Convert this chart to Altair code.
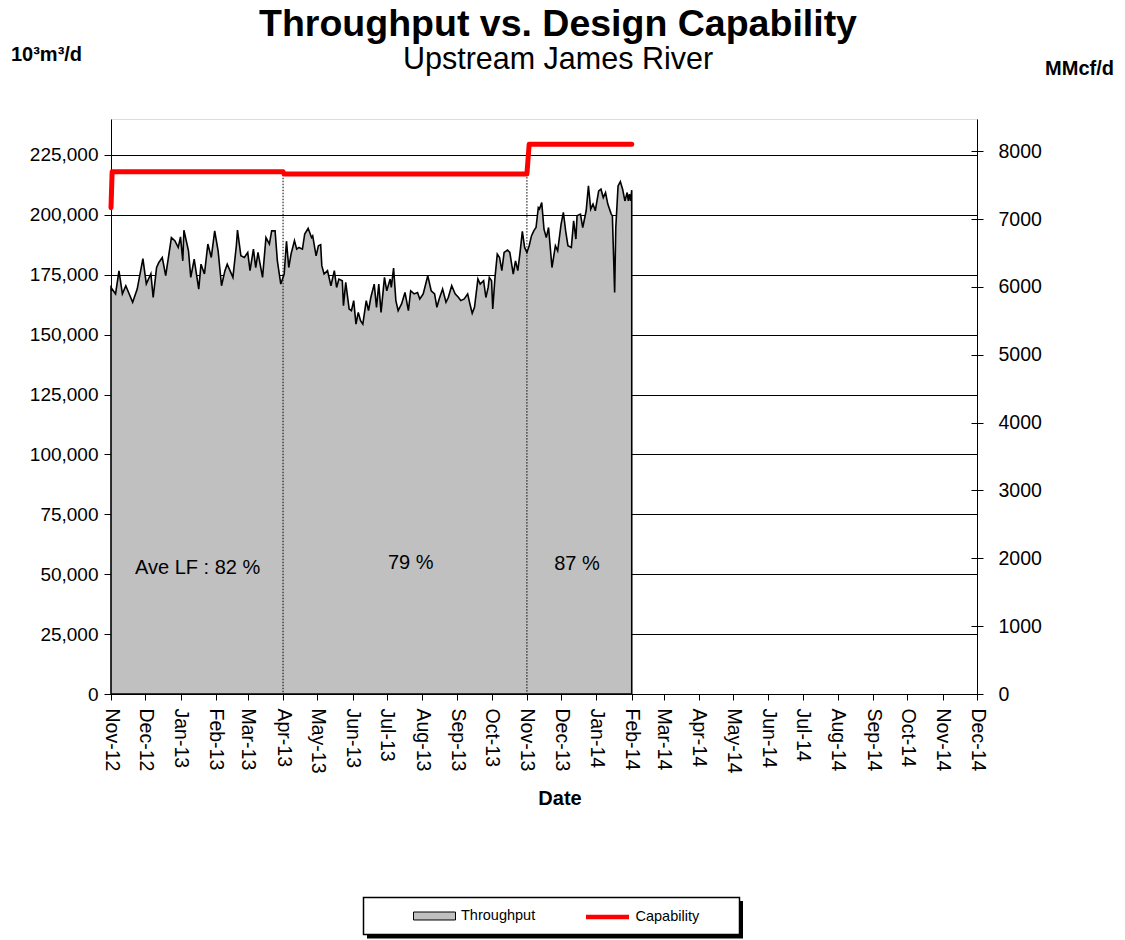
import altair as alt
import pandas as pd

START = pd.Timestamp("2012-11-01")
E3M3_TO_MMCF = 0.0353147  # 10^3 m3/d -> MMcf/d

# Throughput, 10^3 m3/d (days counted from 1-Nov-2012)
tp_days = [0, 4, 7, 10, 13, 19, 23, 28, 31, 35, 37, 40, 42, 45, 48, 53, 56, 59, 61, 63,
           64, 68, 70, 73, 77, 79, 82, 85, 88, 91, 94, 97, 100, 102, 107, 110, 111, 114, 117, 120,
           122, 125, 127, 129, 133, 136, 139, 141, 144, 146, 149, 152, 154, 156, 158, 161, 163, 165, 168, 170,
           173, 176, 177, 180, 182, 184, 185, 187, 190, 193, 196, 198, 200, 203, 204, 206, 209, 211, 213, 215,
           217, 219, 221, 224, 226, 228, 231, 233, 235, 237, 240, 242, 245, 246, 248, 250, 252, 255, 258, 261,
           263, 266, 269, 271, 274, 278, 281, 284, 286, 288, 291, 294, 296, 299, 302, 305, 307, 310, 313, 315,
           317, 319, 322, 324, 327, 329, 331, 332, 334, 335, 337, 339, 341, 343, 345, 348, 350, 353, 355, 357,
           359, 361, 363, 365, 367, 369, 371, 373, 375, 376, 378, 380, 382, 384, 387, 390, 392, 395, 397, 399,
           401, 404, 406, 408, 409, 412, 414, 417, 419, 421, 423, 425, 428, 430, 432, 434, 436, 439, 440, 442,
           443, 445, 447, 449, 451, 453, 454, 455, 456, 457]
tp_values = [169700, 167000, 176600, 167000, 170400, 163500, 169000, 181700, 171200, 175400,
             165500, 178000, 180100, 182200, 174600, 190500, 189200, 186400, 190800, 180800,
             193600, 185000, 173900, 181500, 169000, 179400, 175300, 187800, 182200, 193300,
             185000, 170400, 176700, 179400, 173900, 187100, 193600, 182900, 182200, 184300,
             176700, 185700, 178000, 184300, 173900, 190500, 187800, 193300, 193300, 180800,
             171100, 175300, 189000, 178000, 183600, 189200, 185700, 186400, 185700, 192000,
             194400, 190500, 191200, 182900, 187100, 187500, 178800, 175300, 176700, 170400,
             176700, 169700, 173200, 172500, 162100, 171800, 160700, 160000, 164200, 154400,
             159300, 155800, 154400, 164200, 160000, 165500, 171100, 161400, 171100, 159300,
             173900, 168300, 173200, 169700, 177800, 164200, 160000, 162800, 167600, 160000,
             168300, 167000, 167600, 164900, 167000, 174600, 168300, 167000, 161400, 164900,
             169000, 163500, 165500, 170400, 167000, 165500, 164200, 164900, 167000, 162800,
             158900, 161400, 173200, 171100, 172500, 165500, 169700, 173900, 172500, 160700,
             173900, 183600, 182200, 176700, 184300, 185300, 184300, 175300, 180800, 176700,
             184300, 193100, 186400, 184300, 187100, 191200, 193300, 194700, 203000, 202400,
             205100, 194000, 190500, 194700, 178000, 187100, 185000, 196100, 201000, 193300,
             187100, 186400, 197500, 189900, 199600, 200300, 194700, 201700, 212100, 202400,
             204500, 201700, 210000, 210700, 207200, 209300, 204500, 200300, 199600, 167600,
             194700, 212100, 213900, 210700, 205800, 209300, 205800, 208600, 205800, 210300]

# Design capability, 10^3 m3/d
cap_days = [0, 1, 151, 152, 365, 367, 457]
cap_values = [203000, 218000, 218000, 217000, 217000, 229500, 229500]

# Dotted period dividers
divider_dates = ["2013-04-01T00:00:00", "2013-11-01T00:00:00"]
divider_tops = [218000, 217000]

# Average load-factor annotations
lf_dates = ["2013-01-16T00:00:00", "2013-07-22T00:00:00", "2013-12-15T00:00:00"]
lf_values = [50000, 52000, 51800]
lf_labels = ["Ave LF : 82 %", "79 %", "87 %"]

left_ticks = list(range(0, 225001, 25000))
right_ticks = list(range(0, 8001, 1000))
month_ticks = pd.date_range("2012-11-01", "2014-12-01", freq="MS")


def iso(d):
    return (START + pd.Timedelta(days=d)).strftime("%Y-%m-%dT00:00:00")


df_tp = pd.DataFrame({"date": [iso(d) for d in tp_days], "value": tp_values,
                      "series": "Throughput"})
df_cap = pd.DataFrame({"date": [iso(d) for d in cap_days], "value": cap_values,
                       "series": "Capability"})
df_cap["mmcf"] = df_cap["value"] * E3M3_TO_MMCF
df_div = pd.DataFrame({"date": divider_dates, "value": divider_tops, "bottom": 0})
df_lf = pd.DataFrame({"date": lf_dates, "value": lf_values, "label": lf_labels})
df_one = pd.DataFrame({"k": [0]})

FONT = "Liberation Sans"
YMAX = 240000

x_axis = alt.Axis(
    values=[alt.DateTime(year=int(t.year), month=int(t.month), date=1) for t in month_ticks],
    format="%b-%y", labelAngle=90, labelAlign="left", labelBaseline="middle",
    labelPadding=8, labelFlush=False, labelOverlap=False, labelBound=False,
    labelFont=FONT, labelFontSize=19.5, labelColor="black",
    tickSize=6, tickColor="black", domainColor="black", grid=False,
    title="Date", titleX=448.5, titleY=104, titleAlign="center", titleBaseline="middle",
    titleFont=FONT, titleFontSize=20, titleFontWeight="bold", titleColor="black")
x_scale = alt.Scale(domain=[alt.DateTime(year=2012, month=11, date=1),
                            alt.DateTime(year=2014, month=12, date=1)], nice=False)
x_enc = alt.X("date:T", scale=x_scale, axis=x_axis)

y_scale = alt.Scale(domain=[0, YMAX], nice=False)
y_axis = alt.Axis(
    values=left_ticks, labelExpr="format(datum.value, ',')",
    grid=True, gridColor="black", gridWidth=1, gridOpacity=1,
    domainColor="black", tickColor="black", tickSize=7, labelPadding=6,
    labelFont=FONT, labelFontSize=19, labelColor="black",
    title="10³m³/d", titleAngle=0, titleX=-65, titleY=-65, titleAlign="center",
    titleBaseline="middle", titleFont=FONT, titleFontSize=20, titleFontWeight="bold",
    titleColor="black")
y_enc = alt.Y("value:Q", scale=y_scale, axis=y_axis)

area = alt.Chart(df_tp).mark_area(stroke="black", strokeWidth=1.6, interpolate="linear").encode(
    x=x_enc,
    y=y_enc,
    fill=alt.Fill("series:N", scale=alt.Scale(domain=["Throughput"], range=["#c0c0c0"]),
                  legend=alt.Legend(orient="none", legendX=302, legendY=775.5, title=None,
                                    symbolType="M-1,-0.19H1V0.19H-1Z", symbolSize=1764,
                                    symbolStrokeColor="black", symbolStrokeWidth=1,
                                    labelFont=FONT, labelFontSize=14.5, labelColor="black",
                                    labelOffset=5, padding=0, symbolOffset=0)),
)

cap = alt.Chart(df_cap).mark_line(strokeWidth=5, strokeCap="round", strokeJoin="round").encode(
    x=x_enc,
    y=y_enc,
    stroke=alt.Stroke("series:N", scale=alt.Scale(domain=["Capability"], range=["#ff0000"]),
                      legend=alt.Legend(orient="none", legendX=472.5, legendY=774, title=None,
                                        symbolType="stroke", symbolSize=1849,
                                        symbolStrokeWidth=4.5,
                                        labelFont=FONT, labelFontSize=14.5, labelColor="black",
                                        labelOffset=4, padding=0, symbolOffset=0)),
)

dividers = alt.Chart(df_div).mark_rule(color="black", strokeWidth=1, strokeDash=[1.5, 1.5]).encode(
    x=x_enc,
    y=y_enc,
    y2="bottom:Q",
)

lf_text = alt.Chart(df_lf).mark_text(font=FONT, fontSize=20, align="center",
                                     baseline="alphabetic", color="black").encode(
    x=x_enc,
    y=y_enc,
    text="label:N",
)

shadow = alt.Chart(df_one).mark_rect(color="black").encode(
    x=alt.value(256), x2=alt.value(632), y=alt.value(782), y2=alt.value(819.5))
box = alt.Chart(df_one).mark_rect(fill="white", stroke="black", strokeWidth=1.5).encode(
    x=alt.value(252.5), x2=alt.value(628.5), y=alt.value(778.5), y2=alt.value(815.5))

left = alt.layer(area, dividers, cap, lf_text, shadow, box)

right_scale = alt.Scale(domain=[0, YMAX * E3M3_TO_MMCF], nice=False)
right = alt.Chart(df_cap).mark_line(opacity=0).encode(
    x=x_enc,
    y=alt.Y("mmcf:Q", scale=right_scale,
            axis=alt.Axis(orient="right", values=right_ticks, labelExpr="format(datum.value, 'd')",
                          grid=False,
                          domainColor="black", tickColor="black", tickSize=6, labelPadding=15,
                          labelFont=FONT, labelFontSize=19.5, labelColor="black",
                          title="MMcf/d", titleAngle=0, titleX=102, titleY=-51,
                          titleAlign="center", titleBaseline="middle", titleFont=FONT,
                          titleFontSize=20, titleFontWeight="bold", titleColor="black")),
)

# inner half of the right-axis tick marks (ticks cross the axis line)
right_inner = alt.Chart(df_cap).mark_line(opacity=0).encode(
    x=x_enc,
    y=alt.Y("mmcf:Q", scale=right_scale,
            axis=alt.Axis(orient="right", values=right_ticks, offset=-6, domain=False,
                          labels=False, grid=False, tickColor="black", tickSize=6,
                          title=None)),
)

chart = alt.layer(left, right, right_inner).resolve_scale(y="independent").properties(
    width=866, height=575,
    autosize=alt.AutoSizeParams(type="none"),
    padding={"left": 103, "top": 111, "right": 140, "bottom": 245},
    title=alt.TitleParams(text="Throughput vs. Design Capability",
                          subtitle="Upstream James River",
                          font=FONT, fontSize=37.5, fontWeight="bold", color="black",
                          subtitleFont=FONT, subtitleFontSize=30.5, subtitleColor="black",
                          subtitlePadding=1, anchor="middle", frame="group", dx=14, offset=-31),
).configure_view(stroke="#a0a0a0", strokeWidth=1).configure(background="white")

chart.save("out.html", embed_options={"renderer": "svg", "actions": False})
